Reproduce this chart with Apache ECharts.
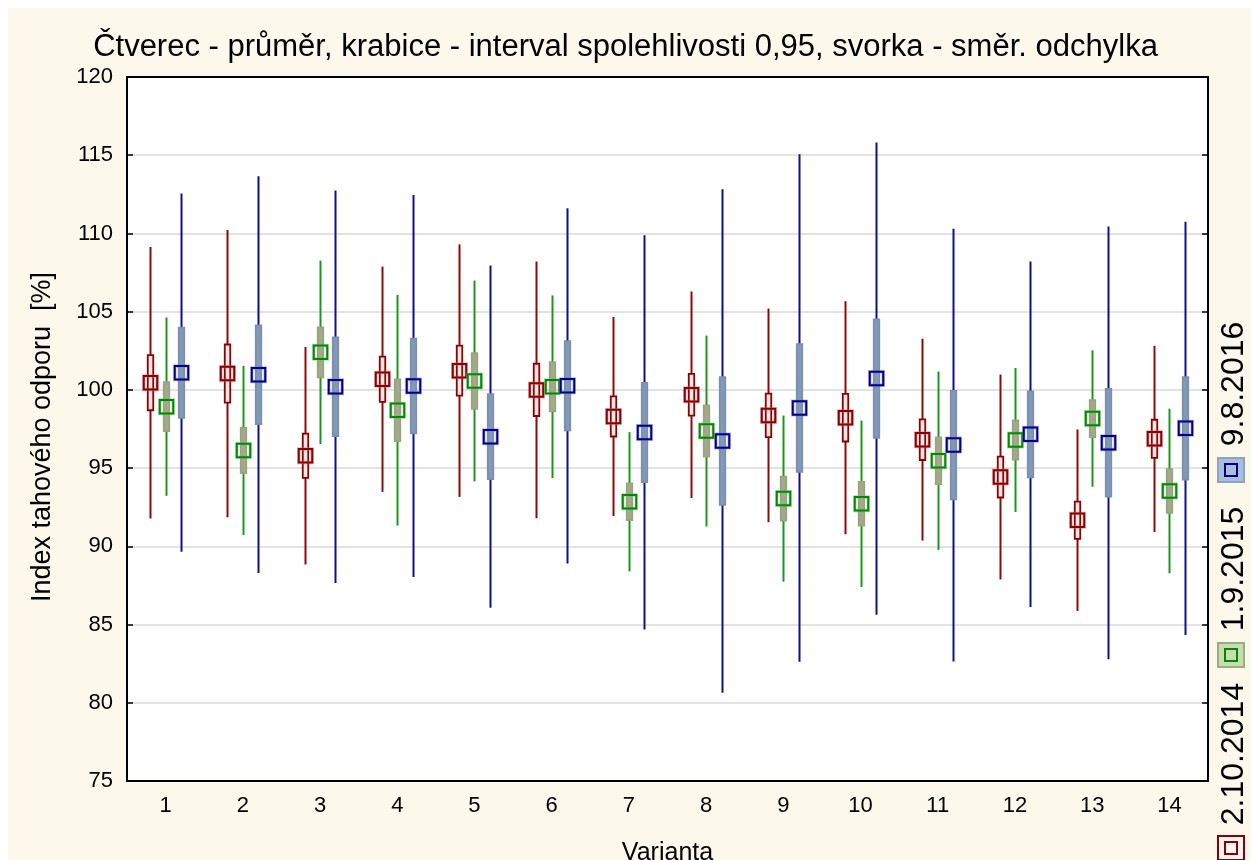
<!DOCTYPE html>
<html>
<head>
<meta charset="utf-8">
<script src="https://cdn.jsdelivr.net/npm/echarts@6/dist/echarts.min.js"></script>
<style>
html,body{margin:0;padding:0;background:#ffffff;}
#chart{width:1251px;height:860px;}
</style>
</head>
<body>
<div id="chart"></div>
<script>
const categories = ['1','2','3','4','5','6','7','8','9','10','11','12','13','14'];
const seriesNames = ['2.10.2014','1.9.2015','9.8.2016'];
const yTicks = [75, 80, 85, 90, 95, 100, 105, 110, 115, 120];

// 2.10.2014
const mean2014 = [100.46, 101.04, 95.79, 100.68, 101.23, 100.0, 98.3, 99.69, 98.37, 98.22, 96.82, 94.43, 91.67, 96.87];
const ci2014   = [1.76, 1.86, 1.41, 1.45, 1.6, 1.67, 1.28, 1.33, 1.39, 1.52, 1.3, 1.31, 1.19, 1.22];
const sd2014   = [8.68, 9.18, 6.95, 7.2, 8.07, 8.2, 6.36, 6.6, 6.83, 7.45, 6.45, 6.55, 5.8, 5.95];
// 1.9.2015
const mean2015 = [98.93, 96.13, 102.4, 98.7, 100.57, 100.2, 92.85, 97.37, 93.05, 92.72, 95.47, 96.8, 98.17, 93.54];
const ci2015   = [1.56, 1.45, 1.6, 1.97, 1.78, 1.57, 1.18, 1.64, 1.4, 1.4, 1.5, 1.25, 1.18, 1.4];
const sd2015   = [5.7, 5.41, 5.86, 7.37, 6.42, 5.84, 4.45, 6.1, 5.31, 5.32, 5.7, 4.6, 4.36, 5.26];
// 9.8.2016
const mean2016 = [101.1, 100.97, 100.2, 100.25, 97.01, 100.26, 97.28, 96.73, 98.84, 100.72, 96.47, 97.16, 96.62, 97.54];
const ci2016   = [2.88, 3.16, 3.15, 3.03, 2.72, 2.85, 3.17, 4.08, 4.08, 3.78, 3.47, 2.75, 3.44, 3.28];
const sd2016   = [11.45, 12.68, 12.54, 12.21, 10.94, 11.35, 12.6, 16.09, 16.22, 15.1, 13.83, 11.04, 13.83, 13.2];

const styles = [
  {offset:-0.2, whisker:'#8e0a0a', boxFill:'#f3e6e6', boxStroke:'#8b0000', mark:'#8b0000', markGlow:'rgba(200,120,120,0.5)'},
  {offset:0,    whisker:'#1c961c', boxFill:'#a3aa8a', boxStroke:'#9aa282', mark:'#008a00', markGlow:'rgba(120,190,120,0.5)'},
  {offset:0.2,  whisker:'#10108e', boxFill:'#8299b6', boxStroke:'#7a90ae', mark:'#00008a', markGlow:'rgba(120,120,200,0.5)'}
];

function buildData(means, cis, sds) {
  return means.map((m, i) => [i, m, cis[i], sds[i]]);
}

function makeRender(st) {
  return function(params, api) {
    const idx = api.value(0), m = api.value(1), ci = api.value(2), sd = api.value(3);
    const band = api.size([1, 0])[0];
    const c = api.coord([idx, m]);
    const x = Math.round(c[0] + st.offset * band) + 0.5;
    const yTop = api.coord([idx, m + sd])[1];
    const yBot = api.coord([idx, m - sd])[1];
    const ciTop = api.coord([idx, m + ci])[1];
    const ciBot = api.coord([idx, m - ci])[1];
    return {
      type: 'group',
      children: [
        {type:'line', shape:{x1:x, y1:yTop, x2:x, y2:yBot}, style:{stroke:st.whisker, lineWidth:2}},
        {type:'rect', shape:{x:x-2.75, y:ciTop, width:5.5, height:ciBot-ciTop}, style:{fill:st.boxFill, stroke:st.boxStroke, lineWidth:1.8}},
        {type:'rect', shape:{x:x-6.75, y:c[1]-6.75, width:13.5, height:13.5}, style:{fill:'none', stroke:st.markGlow, lineWidth:3.5}},
        {type:'rect', shape:{x:x-6.75, y:c[1]-6.75, width:13.5, height:13.5}, style:{fill:'none', stroke:st.mark, lineWidth:2}}
      ]
    };
  };
}

const allData = [
  buildData(mean2014, ci2014, sd2014),
  buildData(mean2015, ci2015, sd2015),
  buildData(mean2016, ci2016, sd2016)
];

const FONT = '"Liberation Sans", Arial, sans-serif';
const chart = echarts.init(document.getElementById('chart'), null, {renderer:'canvas'});

// legend graphics (vertical, rotated text)
const legendItems = [
  {name: seriesNames[2], textY: 384, iconY: 470, fill:'#a9bfdc', border:'#8da3c2', inner:'#00008a'},
  {name: seriesNames[1], textY: 569, iconY: 655, fill:'#c9dcb0', border:'#98ad80', inner:'#008a00'},
  {name: seriesNames[0], textY: 754, iconY: 848, fill:'#fbf4f0', border:'#8b0000', inner:'#8b0000'}
];
const legendGraphics = [];
legendItems.forEach(it => {
  legendGraphics.push({
    type:'text', x:1234, y:it.textY, rotation:Math.PI/2,
    style:{text:it.name, fill:'#000', font:'32px ' + FONT, textAlign:'center', textVerticalAlign:'middle'}
  });
  legendGraphics.push({
    type:'rect', shape:{x:1218, y:it.iconY-12, width:26, height:24},
    style:{fill:it.fill, stroke:it.border, lineWidth:2}
  });
  legendGraphics.push({
    type:'rect', shape:{x:1225, y:it.iconY-6, width:12, height:12},
    style:{fill:'none', stroke:it.inner, lineWidth:2}
  });
});

const option = {
  backgroundColor: '#ffffff',
  animation: false,
  title: {
    text: 'Čtverec - průměr, krabice - interval spolehlivosti 0,95, svorka - směr. odchylka',
    left: 'center', top: 27,
    textStyle: {fontFamily: FONT, fontSize: 31, fontWeight: 'normal', color: '#000'}
  },
  graphic: [
    {type:'rect', z:-10, shape:{x:8, y:8, width:1300, height:900}, style:{fill:'#fdf8ec'}},
    {type:'rect', z:-9, shape:{x:127, y:77, width:1081, height:704}, style:{fill:'#ffffff'}}
  ].concat(legendGraphics),
  grid: {left:127, right:43, top:77, bottom:79, containLabel:false, outerBoundsMode:'none'},
  xAxis: [
    {
      type:'category', data:categories, position:'bottom', boundaryGap:true,
      name:'Varianta', nameLocation:'middle', nameGap:60,
      nameTextStyle:{fontFamily:FONT, fontSize:25, color:'#000'},
      axisLine:{lineStyle:{color:'#000', width:2}},
      axisTick:{inside:true, alignWithLabel:true, length:6, lineStyle:{color:'#000', width:1.5}},
      axisLabel:{fontFamily:FONT, fontSize:22, color:'#000', margin:14},
      splitLine:{show:false}
    },
    {
      type:'category', data:categories, position:'top', boundaryGap:true,
      axisLine:{lineStyle:{color:'#000', width:2}},
      axisTick:{inside:true, alignWithLabel:true, length:6, lineStyle:{color:'#000', width:1.5}},
      axisLabel:{show:false}, splitLine:{show:false}
    }
  ],
  yAxis: [
    {
      type:'value', min:75, max:120, interval:5, position:'left',
      name:'Index tahového odporu  [%]', nameLocation:'middle', nameRotate:90, nameGap:71,
      nameTextStyle:{fontFamily:FONT, fontSize:27, color:'#000', padding:[0, 16, 0, 0]},
      axisLine:{show:true, lineStyle:{color:'#000', width:2}},
      axisTick:{show:true, inside:true, length:6, lineStyle:{color:'#000', width:1.5}},
      axisLabel:{fontFamily:FONT, fontSize:22, color:'#000', margin:14,
        formatter: v => yTicks.indexOf(v) >= 0 ? String(v) : ''},
      splitLine:{show:true, lineStyle:{color:'#dadada', width:1.5}}
    },
    {
      type:'value', min:75, max:120, interval:5, position:'right',
      axisLine:{show:true, lineStyle:{color:'#000', width:2}},
      axisTick:{show:true, inside:true, length:6, lineStyle:{color:'#000', width:1.5}},
      axisLabel:{show:false}, splitLine:{show:false}
    }
  ],
  series: allData.map((d, k) => ({
    type:'custom', name:seriesNames[k], xAxisIndex:0, yAxisIndex:0,
    renderItem: makeRender(styles[k]), data:d, clip:false, z:2 + k
  }))
};
chart.setOption(option);
</script>
</body>
</html>
